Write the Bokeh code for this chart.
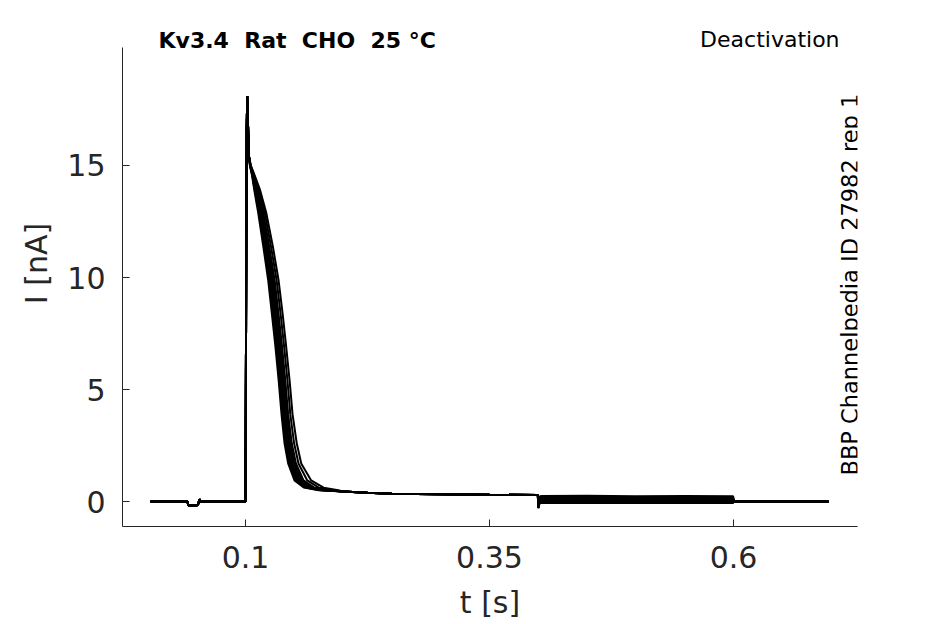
from bokeh.plotting import figure
from bokeh.models import Range1d, FixedTicker, Label
from bokeh.embed import file_html
from bokeh.resources import INLINE
import math

# ---------------- data ----------------
# shared baseline before the step (s, nA)
BASE_T = [0.0027, 0.0405, 0.0415, 0.0500, 0.0515, 0.0529, 0.0540, 0.0999]
BASE_I = [0.00, 0.00, -0.18, -0.18, -0.12, 0.10, 0.00, 0.00]

# shared activation transient
RISE_T = [0.1000, 0.1006, 0.1012, 0.1018, 0.1026, 0.1036]
RISE_I = [0.00, 8.00, 16.5, 18.1, 16.8, 15.4]

# current levels of the deactivating part (nA)
DECAY_I = [15.0, 14.6, 13.9, 12.9, 11.4, 9.9, 8.4, 6.9, 5.4, 3.9, 2.6, 1.7, 0.94, 0.62, 0.50]
# time at which each sweep reaches those levels (s)
DECAY_T = [
    [0.1045, 0.1065, 0.1090, 0.1130, 0.1182, 0.1232, 0.1270, 0.1307, 0.1340, 0.1369, 0.1400, 0.1437, 0.1502, 0.1600, 0.1750],
    [0.1046, 0.1068, 0.1096, 0.1138, 0.1191, 0.1241, 0.1279, 0.1316, 0.1349, 0.1378, 0.1410, 0.1448, 0.1515, 0.1615, 0.1770],
    [0.1047, 0.1071, 0.1102, 0.1146, 0.1200, 0.1251, 0.1289, 0.1326, 0.1359, 0.1388, 0.1421, 0.1460, 0.1529, 0.1632, 0.1790],
    [0.1048, 0.1074, 0.1108, 0.1154, 0.1210, 0.1262, 0.1300, 0.1337, 0.1370, 0.1399, 0.1433, 0.1472, 0.1543, 0.1648, 0.1810],
    [0.1049, 0.1077, 0.1115, 0.1163, 0.1220, 0.1273, 0.1312, 0.1349, 0.1382, 0.1411, 0.1446, 0.1486, 0.1559, 0.1666, 0.1830],
    [0.1050, 0.1080, 0.1122, 0.1172, 0.1231, 0.1285, 0.1325, 0.1362, 0.1395, 0.1424, 0.1460, 0.1501, 0.1576, 0.1685, 0.1850],
    [0.1051, 0.1082, 0.1128, 0.1182, 0.1243, 0.1298, 0.1338, 0.1375, 0.1408, 0.1437, 0.1474, 0.1517, 0.1594, 0.1705, 0.1870],
    [0.1053, 0.1086, 0.1139, 0.1197, 0.1261, 0.1318, 0.1359, 0.1396, 0.1430, 0.1459, 0.1498, 0.1543, 0.1633, 0.1752, 0.1910],
    [0.1055, 0.1090, 0.1150, 0.1212, 0.1280, 0.1338, 0.1380, 0.1417, 0.1452, 0.1482, 0.1525, 0.1571, 0.1673, 0.1800, 0.1950],
]

# shared slow tail until the second step
TAIL_T = [0.200, 0.225, 0.250, 0.300, 0.350, 0.3995]
TAIL_I = [0.45, 0.39, 0.35, 0.32, 0.30, 0.29]

# second step (0.4 - 0.6 s): times and per-sweep currents
STEP_T = [0.4000, 0.4012, 0.4030, 0.4500, 0.5000, 0.5500, 0.5995]
STEP_I = [
    [-0.05, 0.22, 0.25, 0.26, 0.24, 0.25, 0.24],
    [-0.10, 0.17, 0.20, 0.21, 0.19, 0.20, 0.19],
    [-0.15, 0.12, 0.16, 0.16, 0.15, 0.16, 0.15],
    [-0.20, 0.08, 0.11, 0.12, 0.11, 0.12, 0.11],
    [-0.24, 0.04, 0.07, 0.08, 0.07, 0.08, 0.07],
    [-0.27, 0.00, 0.03, 0.04, 0.03, 0.04, 0.03],
    [-0.28, -0.03, 0.00, 0.01, 0.00, 0.01, 0.00],
    [-0.29, -0.06, -0.04, -0.03, -0.04, -0.03, -0.04],
    [-0.30, -0.09, -0.07, -0.06, -0.07, -0.06, -0.07],
]

# after the protocol
END_T = [0.6005, 0.6973]
END_I = [0.00, 0.00]

X_TICKS = [0.1, 0.35, 0.6]
X_TICK_LABELS = ["0.1", "0.35", "0.6"]
Y_TICKS = [0, 5, 10, 15]
Y_TICK_LABELS = ["0", "5", "10", "15"]

TITLE = "Kv3.4\u00a0 Rat\u00a0 CHO\u00a0 25 °C"
PROTOCOL = "Deactivation"
SIDE_NOTE = "BBP Channelpedia ID 27982 rep 1"

# ---------------- build sweeps ----------------
xs, ys = [], []
for k in range(len(DECAY_T)):
    xs.append(BASE_T + RISE_T + DECAY_T[k] + TAIL_T + STEP_T + END_T)
    ys.append(BASE_I + RISE_I + DECAY_I + TAIL_I + STEP_I[k] + END_I)

FONT = "DejaVu Sans"
DARK = "#262626"
Y_LO, Y_HI = -1.116, 20.27

p = figure(width=945, height=624,
           x_range=Range1d(-0.026, 0.727), y_range=Range1d(Y_LO, 22.366),
           output_backend="svg", toolbar_location=None,
           min_border_left=122, min_border_right=88,
           min_border_top=0, min_border_bottom=98)

p.multi_line(xs, ys, line_color="black", line_width=2)

p.outline_line_color = None
p.grid.visible = False
p.background_fill_color = "white"
p.border_fill_color = "white"

for ax in (p.xaxis[0], p.yaxis[0]):
    ax.axis_line_color = DARK
    ax.axis_line_width = 1
    ax.major_tick_line_color = DARK
    ax.major_tick_in = 7
    ax.major_tick_out = 0
    ax.minor_tick_line_color = None
    ax.major_label_text_font = FONT
    ax.major_label_text_font_size = "30px"
    ax.major_label_text_color = DARK
    ax.axis_label_text_font = FONT
    ax.axis_label_text_font_size = "30px"
    ax.axis_label_text_color = DARK
    ax.axis_label_text_font_style = "normal"

p.yaxis.bounds = (Y_LO, Y_HI)
p.xaxis.ticker = FixedTicker(ticks=X_TICKS)
p.xaxis.major_label_overrides = dict(zip(X_TICKS, X_TICK_LABELS))
p.yaxis.ticker = FixedTicker(ticks=Y_TICKS)
p.yaxis.major_label_overrides = dict(zip(Y_TICKS, Y_TICK_LABELS))
p.xaxis.axis_label = "t [s]"
p.yaxis.axis_label = "I [nA]"
p.xaxis.major_label_standoff = 19
p.xaxis.axis_label_standoff = 14
p.yaxis.major_label_standoff = 17
p.yaxis.axis_label_standoff = 10

p.add_layout(Label(x=0.0109, y=20.58, text=TITLE, text_font=FONT,
                   text_font_size="22px", text_font_style="bold",
                   text_color="black", text_align="left", text_baseline="middle"))
p.add_layout(Label(x=0.7086, y=20.62, text=PROTOCOL, text_font=FONT,
                   text_font_size="22px", text_color="black",
                   text_align="right", text_baseline="middle"))
p.add_layout(Label(x=0.7195, y=1.16, text=SIDE_NOTE, text_font=FONT,
                   text_font_size="22.5px", text_color="black", angle=math.pi / 2,
                   text_align="left", text_baseline="middle"))

open("out.html", "w").write(file_html(p, INLINE))
